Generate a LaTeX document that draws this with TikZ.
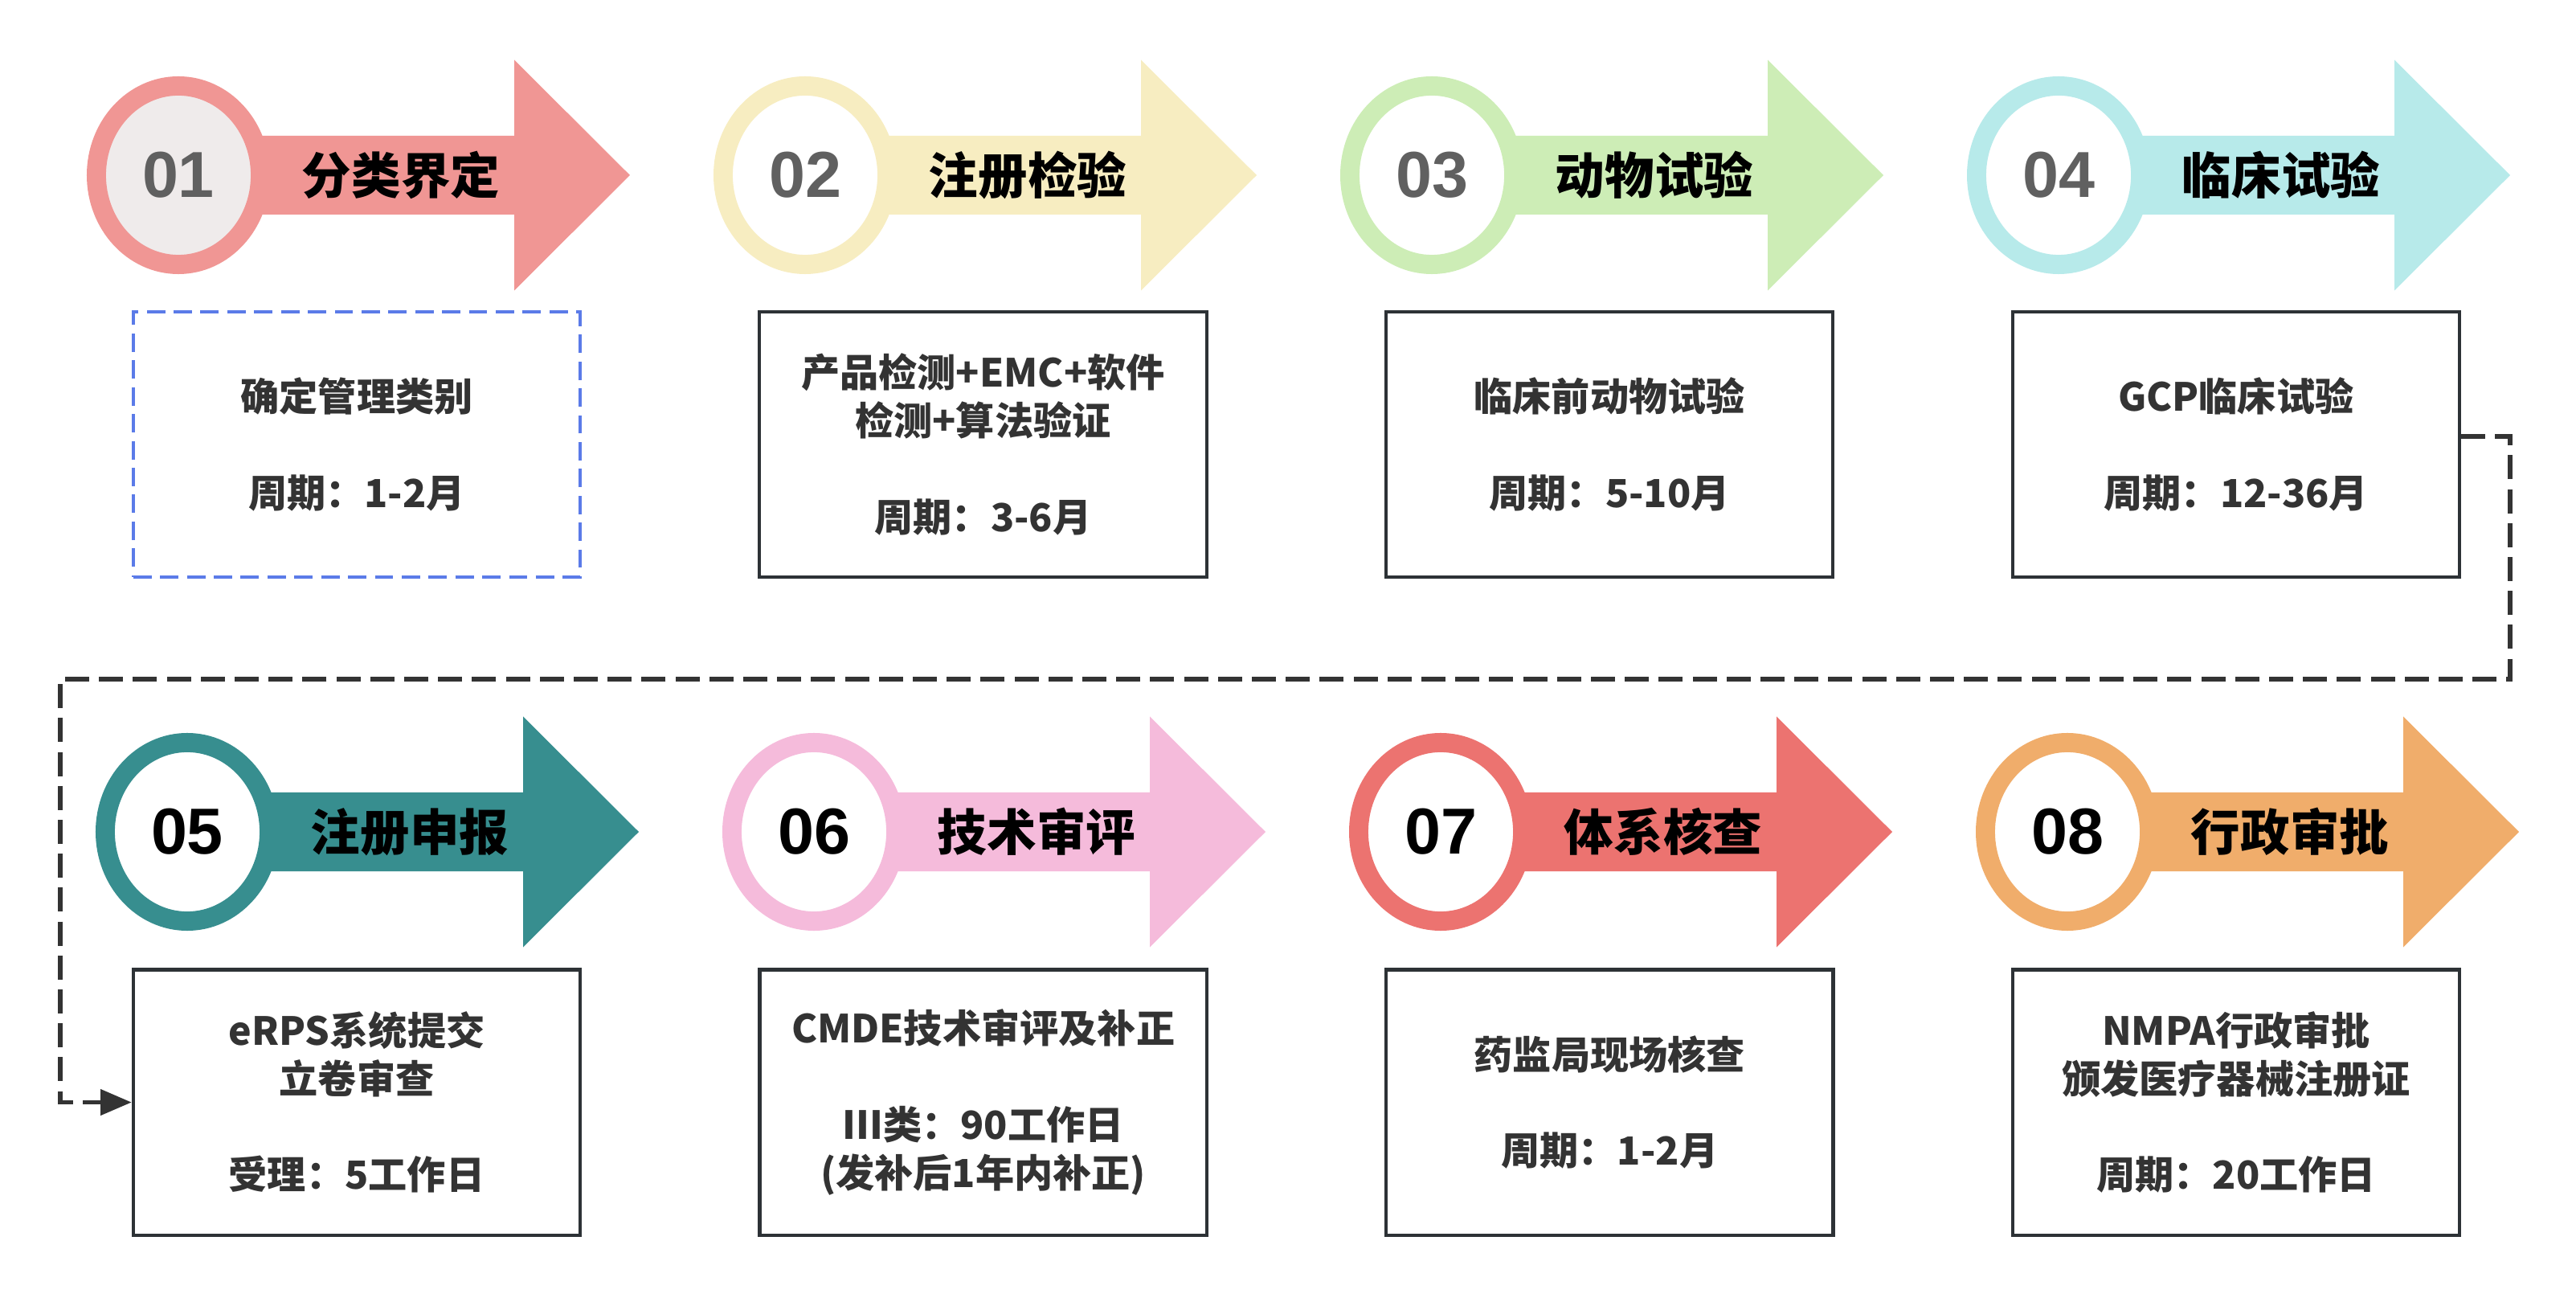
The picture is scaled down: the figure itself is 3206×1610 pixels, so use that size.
\documentclass[tikz,border=0pt]{standalone}
\usepackage{fontspec}
\newfontfamily\cjk{Noto Sans CJK SC}
\newfontfamily\numfont{Liberation Sans}
\usetikzlibrary{arrows.meta,
                chains,
                positioning,
                shapes.geometric
                }
\definecolor{c01}{HTML}{F09694}
\definecolor{c02}{HTML}{F7EDC1}
\definecolor{c03}{HTML}{CDEDB6}
\definecolor{c04}{HTML}{B7EAEA}
\definecolor{c05}{HTML}{378E8F}
\definecolor{c06}{HTML}{F5BBDB}
\definecolor{c07}{HTML}{EC7370}
\definecolor{c08}{HTML}{F0AD6B}
\definecolor{inner01}{HTML}{EFEBEB}
\definecolor{numgray}{HTML}{606060}
\definecolor{textgray}{HTML}{333333}
\definecolor{boxline}{HTML}{2D3236}
\definecolor{planblue}{HTML}{5B7BE8}

\begin{document}
\begin{tikzpicture}[
        x = 0.01cm, y = -0.01cm,
        node distance = 4.84cm and 2.19cm,
        ring/.style = {shape=ellipse, line width=6.8pt, inner sep=0pt,
                       minimum width=2.04cm, minimum height=2.22cm,
                       font=\numfont\bfseries\fontsize{23}{23}\selectfont},
        title/.style = {font=\cjk\bfseries\fontsize{17.5}{20}\selectfont, text=black},
        stage/.style = {draw=boxline, line width=1.2pt, inner sep=0pt,
                        minimum width=5.56cm, minimum height=3.3cm, align=center,
                        text=textgray, font=\cjk\bfseries\fontsize{13.7}{17}\selectfont},
        plan/.style = {draw=planblue, line width=1.1pt, dash pattern=on 6.5pt off 3pt},
        link/.style = {draw=textgray, line width=1.5pt, dash pattern=on 8.5pt off 3.5pt,
                       -{Triangle[length=11pt,width=9pt]}}
    ]
    \useasboundingbox (0,0) rectangle (3206,1610);
    % step arrows with numbered rings
    \foreach \i/\cx/\cy/\col/\fillc/\numc/\title in {
            1/222/218/c01/inner01/numgray/分类界定,
            2/1002/218/c02/white/numgray/注册检验,
            3/1782/218/c03/white/numgray/动物试验,
            4/2562/218/c04/white/numgray/临床试验,
            5/233/1035/c05/white/black/注册申报,
            6/1013/1035/c06/white/black/技术审评,
            7/1793/1035/c07/white/black/体系核查,
            8/2573/1035/c08/white/black/行政审批}
    {
        \fill[\col] (\cx,\cy-49) -- (\cx+418,\cy-49) -- (\cx+418,\cy-143.5)
            -- (\cx+562,\cy) -- (\cx+418,\cy+143.5) -- (\cx+418,\cy+49)
            -- (\cx,\cy+49) -- cycle;
        \node (n\i) [ring, draw=\col, fill=\fillc, text=\numc] at (\cx,\cy) {0\i};
        \node (t\i) [title] at (\cx+277,\cy) {\title};
    }
    % boxes, first row
    \begin{scope}[start chain = going right, every node/.append style={on chain}]
        \node (b1) [stage, plan] at (444,553) {
            确定管理类别\\\\
            周期：1-2月
        };
        \node (b2) [stage] {
            产品检测+EMC+软件\\
            检测+算法验证\\\\
            周期：3-6月
        };
        \node (b3) [stage] {
            临床前动物试验\\\\
            周期：5-10月
        };
        \node (b4) [stage] {
            GCP临床试验\\\\
            周期：12-36月
        };
    \end{scope}
    % boxes, second row
    \begin{scope}[start chain = going right, every node/.append style={on chain}]
        \node (b5) [stage, below=of b1] {
            eRPS系统提交\\
            立卷审查\\\\
            受理：5工作日
        };
        \node (b6) [stage] {
            CMDE技术审评及补正\\\\
            III类：90工作日\\
            (发补后1年内补正)
        };
        \node (b7) [stage] {
            药监局现场核查\\\\
            周期：1-2月
        };
        \node (b8) [stage] {
            NMPA行政审批\\
            颁发医疗器械注册证\\\\
            周期：20工作日
        };
    \end{scope}
    \coordinate (bend1) at (3124,845);
    \coordinate (bend2) at (75,845);
    \draw[link] ([yshift=1mm]b4.east) -| (bend1) -- (bend2) |- (b5.west);
\end{tikzpicture}
\end{document}
